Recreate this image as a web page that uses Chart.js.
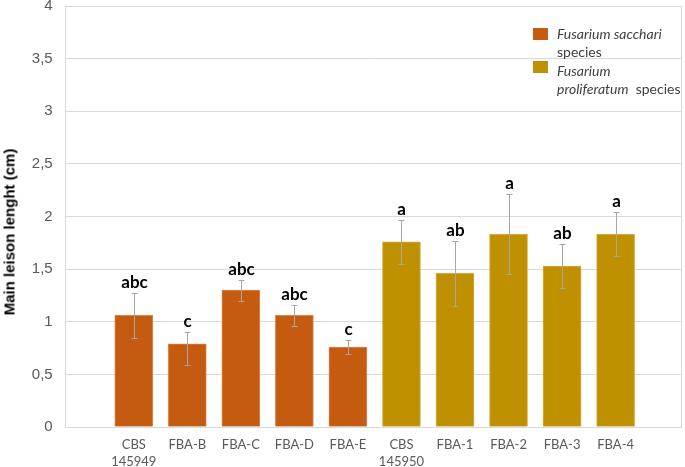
<!DOCTYPE html>
<html>
<head>
<meta charset="utf-8">
<script src="https://cdn.jsdelivr.net/npm/chart.js@4"></script>
<style>
    body { margin: 0; background: #fff; }
    #wrap { position: relative; width: 685px; height: 467px; }
    #ytitle {
        position: absolute; left: 9px; top: 232px;
        transform: translate(-50%, -50%) rotate(-90deg);
        font: bold 15px "Liberation Sans", Arial, sans-serif;
        color: #000; white-space: nowrap;
    }
    .leg { position: absolute; font: 14px Lato, sans-serif; color: #404040; line-height: 18px; }
    .sw { position: absolute; width: 15px; height: 12px; }
</style>
</head>
<body>
<div id="wrap">
    <canvas id="chart" width="685" height="467"></canvas>
    <div id="ytitle">Main leison lenght (cm)</div>
    <div class="sw" style="left:533px;top:28px;background:#C55A11"></div>
    <div class="leg" style="left:557px;top:25px"><i>Fusarium sacchari</i><br>species</div>
    <div class="sw" style="left:533px;top:61px;background:#BF9000"></div>
    <div class="leg" style="left:557px;top:62px"><i>Fusarium</i><br><i>proliferatum</i>&nbsp; species</div>
</div>
<script>
// Strains, lesion means, error bars and significance letters
const strains = [['CBS', '145949'], 'FBA-B', 'FBA-C', 'FBA-D', 'FBA-E', ['CBS', '145950'], 'FBA-1', 'FBA-2', 'FBA-3', 'FBA-4'];
const lesion = [1.06, 0.79, 1.30, 1.06, 0.76, 1.76, 1.46, 1.83, 1.53, 1.83];
const errUp = [0.21, 0.11, 0.10, 0.10, 0.07, 0.21, 0.31, 0.38, 0.21, 0.21];
const errDown = [0.21, 0.20, 0.10, 0.10, 0.07, 0.21, 0.31, 0.38, 0.21, 0.21];
const letters = ['abc', 'c', 'abc', 'abc', 'c', 'a', 'ab', 'a', 'ab', 'a'];
const species = [0, 0, 0, 0, 0, 1, 1, 1, 1, 1];
const yTicks = [0, 0.5, 1, 1.5, 2, 2.5, 3, 3.5, 4];

const FILL = ['#C55A11', '#BF9000'];
const EDGE = ['#E0854A', '#D6AC3A'];

// plot frame, error bars and letters
const extras = {
    id: 'extras',
    beforeDatasetsDraw(chart) {
        const a = chart.chartArea, ctx = chart.ctx;
        ctx.save();
        ctx.strokeStyle = '#D9D9D9';
        ctx.lineWidth = 1;
        ctx.strokeRect(Math.round(a.left) + 0.5, Math.round(a.top) + 0.5,
            Math.round(a.right - a.left) - 1, Math.round(a.bottom - a.top));
        ctx.restore();
    },
    afterDatasetsDraw(chart) {
        const ctx = chart.ctx;
        const xs = chart.scales.x, ys = chart.scales.y;
        ctx.save();
        ctx.strokeStyle = '#A6A6A6';
        ctx.lineWidth = 1;
        lesion.forEach(function(v, i) {
            const x = Math.round(xs.getPixelForValue(i + 1)) + 0.5;
            const top = Math.round(ys.getPixelForValue(v + errUp[i])) + 0.5;
            const bot = Math.round(ys.getPixelForValue(v - errDown[i])) + 0.5;
            ctx.beginPath();
            ctx.moveTo(x, top); ctx.lineTo(x, bot);
            ctx.moveTo(x - 3, top); ctx.lineTo(x + 3, top);
            ctx.moveTo(x - 3, bot); ctx.lineTo(x + 3, bot);
            ctx.stroke();
            ctx.fillStyle = '#000';
            ctx.font = 'bold 17px Lato, sans-serif';
            ctx.textAlign = 'center';
            ctx.textBaseline = 'alphabetic';
            ctx.fillText(letters[i], x, top - 6);
        });
        ctx.restore();
    }
};

new Chart(document.getElementById('chart'), {
    type: 'bar',
    data: {
        datasets: [{
            data: lesion.map((v, i) => ({ x: i + 1, y: v })),
            backgroundColor: species.map(s => FILL[s]),
            borderColor: species.map(s => EDGE[s]),
            borderWidth: 1,
            barThickness: 38
        }]
    },
    options: {
        responsive: false,
        animation: false,
        layout: { padding: { top: 6, right: 3, left: 0, bottom: 0 } },
        plugins: { legend: { display: false }, tooltip: { enabled: false } },
        scales: {
            x: {
                type: 'linear',
                offset: false,
                min: -0.29,
                max: 11.24,
                grid: { display: false, drawTicks: false },
                border: { display: false },
                afterBuildTicks(scale) {
                    scale.ticks = strains.map((s, i) => ({ value: i + 1 }));
                },
                afterFit(scale) {
                    scale.height = 40;
                    scale.paddingLeft = 0;
                    scale.paddingRight = 0;
                },
                ticks: {
                    autoSkip: false,
                    maxRotation: 0,
                    padding: 9,
                    color: '#595959',
                    font: { family: 'Lato', size: 13, lineHeight: 1.3 },
                    callback: v => strains[v - 1]
                }
            },
            y: {
                min: 0,
                max: 4,
                grid: { color: '#D9D9D9', drawTicks: false },
                border: { display: false },
                afterBuildTicks(scale) {
                    scale.ticks = yTicks.map(v => ({ value: v }));
                },
                afterFit(scale) {
                    scale.width = 64.7;
                    scale.paddingTop = 0;
                    scale.paddingBottom = 0;
                },
                ticks: {
                    padding: 12,
                    color: '#595959',
                    font: { family: 'Liberation Sans', size: 15 },
                    callback: v => String(v).replace('.', ',')
                }
            }
        }
    },
    plugins: [extras]
});
</script>
</body>
</html>
